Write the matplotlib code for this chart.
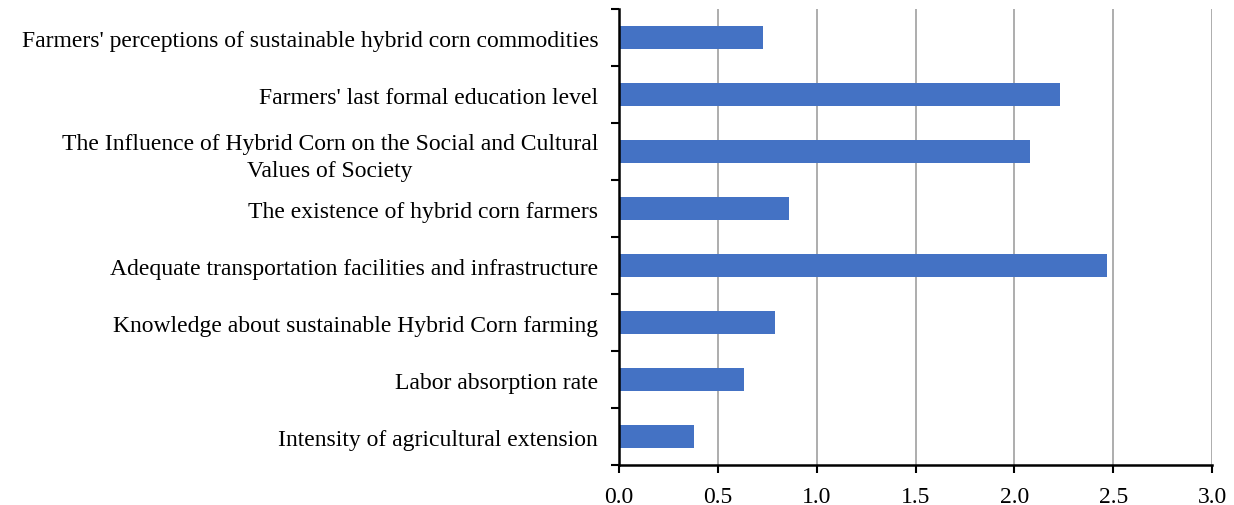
import matplotlib.pyplot as plt
import numpy as np

plt.rcParams['font.family'] = 'Liberation Serif'

# categories from bottom to top
labels = [
    'Intensity of agricultural extension',
    'Labor absorption rate',
    'Knowledge about sustainable Hybrid Corn farming',
    'Adequate transportation facilities and infrastructure',
    'The existence of hybrid corn farmers',
    'The Influence of Hybrid Corn on the Social and Cultural\nValues of Society',
    "Farmers' last formal education level",
    "Farmers' perceptions of sustainable hybrid corn commodities",
]
values = [0.38, 0.63, 0.79, 2.47, 0.86, 2.08, 2.23, 0.73]
xticks = [0.0, 0.5, 1.0, 1.5, 2.0, 2.5, 3.0]

fig = plt.figure(figsize=(12.34, 5.06), dpi=100)
ax = fig.add_axes([0.5016, 0.079, 0.4806, 0.901])

y = np.arange(len(labels))
ax.barh(y, values, height=0.4, color='#4472C4', zorder=3)

ax.set_xlim(0, 3.0)
ax.set_ylim(-0.5, len(labels) - 0.5)
ax.set_xticks(xticks)
ax.set_xticklabels(['%.1f' % t for t in xticks], fontsize=17)
ax.set_yticks(y)
ax.set_yticklabels(labels, fontsize=17, multialignment='center', linespacing=1.4)
ax.tick_params(axis='y', length=0, pad=15)
ax.set_yticks(np.arange(-0.5, len(labels), 1), minor=True)
ax.tick_params(axis='y', which='minor', length=6, width=1.5)
ax.tick_params(axis='x', length=6, width=1.5, pad=9)

ax.grid(axis='x', color='#A0A0A0', linewidth=1.2, zorder=0)
for s in ['top', 'right']:
    ax.spines[s].set_visible(False)
for s in ['left', 'bottom']:
    ax.spines[s].set_linewidth(1.8)
ax.spines['left'].set_zorder(4)

fig.savefig('out.png', dpi=100)
